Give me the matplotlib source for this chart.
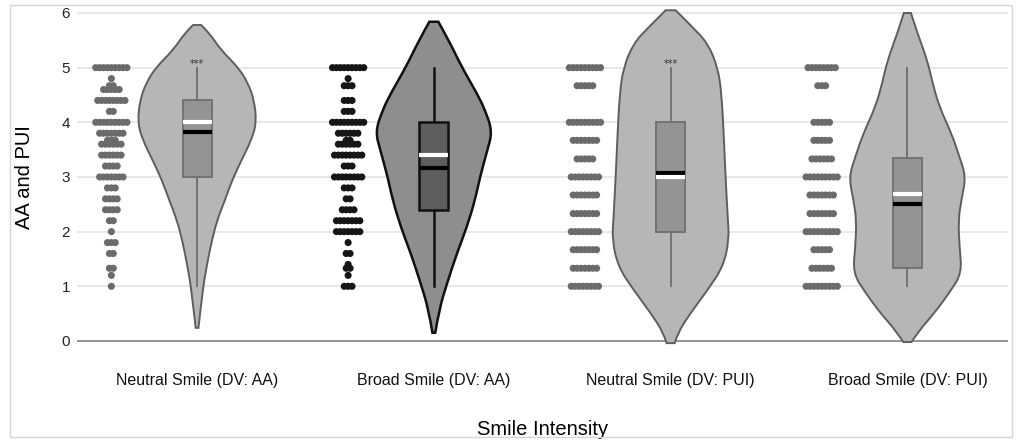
import numpy as np
import matplotlib.pyplot as plt
from matplotlib.path import Path
from matplotlib.patches import PathPatch, Rectangle

categories = ['Neutral Smile (DV: AA)', 'Broad Smile (DV: AA)',
              'Neutral Smile (DV: PUI)', 'Broad Smile (DV: PUI)']

# strip of raw responses: response level and number of dots on it
na_levels = [5.0, 4.8, 4.67, 4.6, 4.4, 4.2, 4.0, 3.8, 3.67, 3.6, 3.4, 3.2, 3.0,
             2.8, 2.6, 2.4, 2.2, 2.0, 1.8, 1.6, 1.33, 1.2, 1.0]
na_counts = [9, 1, 2, 5, 8, 2, 9, 7, 3, 6, 6, 4, 7, 3, 4, 4, 2, 1, 3, 2, 2, 1, 1]

ba_levels = [5.0, 4.8, 4.67, 4.4, 4.2, 4.0, 3.8, 3.67, 3.6, 3.4, 3.2, 3.0, 2.8,
             2.6, 2.4, 2.2, 2.0, 1.8, 1.6, 1.4, 1.33, 1.2, 1.0]
ba_counts = [9, 1, 3, 3, 3, 9, 6, 2, 6, 8, 3, 8, 3, 2, 4, 7, 7, 1, 2, 1, 2, 1, 3]

np_levels = [5.0, 4.67, 4.0, 3.67, 3.33, 3.0, 2.67, 2.33, 2.0, 1.67, 1.33, 1.0]
np_counts = [9, 5, 9, 7, 5, 8, 7, 7, 8, 7, 7, 8]

bp_levels = [5.0, 4.67, 4.0, 3.67, 3.33, 3.0, 2.67, 2.33, 2.0, 1.67, 1.33, 1.0]
bp_counts = [8, 3, 5, 5, 6, 9, 7, 7, 9, 5, 6, 9]

# violin outline: y value and half width (category units)
na_vy = [5.78, 5.64, 5.32, 5.01, 4.72, 4.41, 4.0, 3.68, 3.31, 2.94, 2.58, 2.21, 1.85, 1.36, 0.88, 0.24]
na_vw = [0.017, 0.051, 0.101, 0.173, 0.215, 0.241, 0.251, 0.230, 0.188, 0.148, 0.118, 0.085, 0.063, 0.040, 0.022, 0.006]

ba_vy = [5.84, 5.5, 5.01, 4.53, 4.22, 3.83, 3.49, 3.0, 2.58, 2.09, 1.61, 1.06, 0.57, 0.15]
ba_vw = [0.019, 0.063, 0.118, 0.182, 0.217, 0.247, 0.226, 0.195, 0.174, 0.140, 0.098, 0.056, 0.022, 0.006]

np_vy = [6.05, 5.74, 5.45, 5.01, 4.53, 3.8, 3.0, 2.27, 1.85, 1.36, 0.93, 0.51, 0.15, -0.04]
np_vw = [0.021, 0.093, 0.156, 0.199, 0.215, 0.224, 0.232, 0.241, 0.247, 0.222, 0.156, 0.084, 0.030, 0.017]

bp_vy = [6.0, 5.63, 5.14, 4.72, 4.28, 3.8, 3.37, 3.0, 2.58, 2.21, 1.72, 1.24, 0.88, 0.51, 0.2, -0.02]
bp_vw = [0.015, 0.042, 0.084, 0.106, 0.135, 0.186, 0.220, 0.247, 0.228, 0.215, 0.220, 0.230, 0.177, 0.114, 0.051, 0.017]

# box: q1, q3, lower whisker, upper whisker, median, mean
na_box = [3.0, 4.4, 1.0, 5.0, 3.83, 4.0]
ba_box = [2.4, 4.0, 1.0, 5.0, 3.17, 3.4]
np_box = [2.0, 4.0, 1.0, 5.0, 3.08, 3.0]
bp_box = [1.33, 3.34, 1.0, 5.0, 2.5, 2.68]

stars = ['***', '', '***', '']

groups = [
    (na_levels, na_counts, na_vy, na_vw, na_box),
    (ba_levels, ba_counts, ba_vy, ba_vw, ba_box),
    (np_levels, np_counts, np_vy, np_vw, np_box),
    (bp_levels, bp_counts, bp_vy, bp_vw, bp_box),
]

# light style for groups 0,2,3 and dark style for group 1
light = dict(dot='#6b6b6b', fill='#b6b6b6', edge='#5e5e5e', box='#949494', boxedge='#737373', lw=1.4)
dark = dict(dot='#161616', fill='#8e8e8e', edge='#111111', box='#5e5e5e', boxedge='#111111', lw=1.8)
styles = [light, dark, light, light]


def smooth_outline(c, vy, vw):
    right = [(c + w, y) for y, w in zip(vy, vw)]
    left = [(c - w, y) for y, w in zip(vy, vw)][::-1]
    verts = [(c - vw[0], vy[0])]
    codes = [Path.MOVETO]
    for side in (right, left):
        verts.append(side[0])
        codes.append(Path.LINETO)
        for i in range(1, len(side) - 1):
            nxt = side[i + 1] if i == len(side) - 2 else \
                ((side[i][0] + side[i + 1][0]) / 2, (side[i][1] + side[i + 1][1]) / 2)
            verts += [side[i], nxt]
            codes += [Path.CURVE3, Path.CURVE3]
    verts.append(verts[0])
    codes.append(Path.CLOSEPOLY)
    return Path(verts, codes)


fig = plt.figure(figsize=(10.16, 4.43), dpi=100)
ax = fig.add_axes([0.0758, 0.218, 0.9166, 0.765])

ax.set_xlim(-0.507, 3.426)
ax.set_ylim(-0.1, 6.1)
for y in range(1, 7):
    ax.axhline(y, color='#e4e4e4', lw=1.2, zorder=0)
ax.axhline(0, color='#8a8a8a', lw=1.3, zorder=0)

strip_off = -0.362
step = 0.0165
box_w = 0.1225

for i, (lev, cnt, vy, vw, bx) in enumerate(groups):
    st = styles[i]
    # strip of dots
    xs, ys = [], []
    for l, n in zip(lev, cnt):
        offs = (np.arange(n) - (n - 1) / 2) * step
        xs.extend(i + strip_off + offs)
        ys.extend([l] * n)
    ax.scatter(xs, ys, s=26, color=st['dot'], edgecolors='none', zorder=3)

    # violin
    ax.add_patch(PathPatch(smooth_outline(i, vy, vw), facecolor=st['fill'],
                           edgecolor=st['edge'], lw=st['lw'], zorder=2, clip_on=False))

    q1, q3, wlo, whi, med, mean = bx
    ax.plot([i, i], [wlo, q1], color=st['boxedge'], lw=st['lw'], zorder=3)
    ax.plot([i, i], [q3, whi], color=st['boxedge'], lw=st['lw'], zorder=3)
    ax.add_patch(Rectangle((i - box_w / 2, q1), box_w, q3 - q1, facecolor=st['box'],
                           edgecolor=st['boxedge'], lw=st['lw'], zorder=3))
    ax.plot([i - box_w / 2, i + box_w / 2], [med, med], color='black', lw=3, zorder=4,
            solid_capstyle='butt')
    ax.plot([i - box_w / 2, i + box_w / 2], [mean, mean], color='white', lw=3, zorder=4,
            solid_capstyle='butt')
    if stars[i]:
        ax.text(i, 5.07, stars[i], ha='center', va='center', fontsize=7, color='#333333', zorder=5)

for s in ax.spines.values():
    s.set_visible(False)
ax.tick_params(length=0)
ax.set_yticks(range(0, 7))
ax.set_yticklabels([str(v) for v in range(0, 7)], fontsize=11, color='#222222',
                   family='Liberation Sans')
ax.tick_params(axis='y', pad=5)
ax.set_xticks(range(4))
ax.set_xticklabels(categories, fontsize=11.5, color='#111111', family='Liberation Sans')
ax.tick_params(axis='x', pad=19)
ax.set_xlabel('Smile Intensity', fontsize=14.5, family='Liberation Sans', labelpad=23)
ax.set_ylabel('AA and PUI', fontsize=14.5, family='Liberation Sans', labelpad=20)

fig.patches.append(Rectangle((10 / 1016, 6 / 443), 1002 / 1016, 432 / 443, transform=fig.transFigure,
                             fill=False, edgecolor='#d6d6d6', lw=1))

fig.savefig('out.png', dpi=100)
